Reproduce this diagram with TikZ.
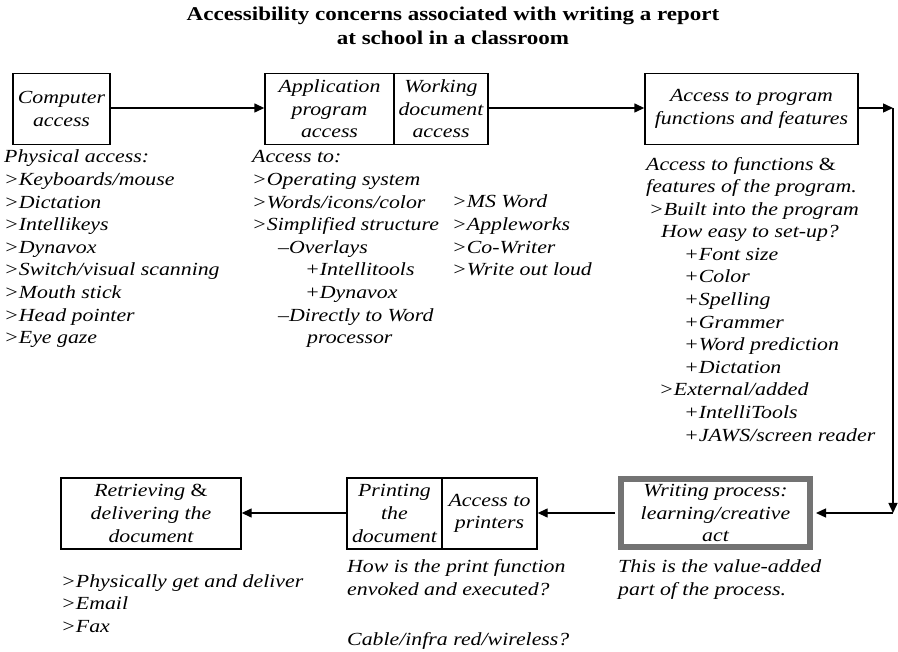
\documentclass[tikz,border=0pt]{standalone}
\usepackage{fontspec}
\setmainfont{Liberation Serif}[FakeStretch=1.18]
\usetikzlibrary{arrows.meta}

\begin{document}
\begin{tikzpicture}[x=1pt,y=-1pt,
  bodyfont/.style={font=\fontsize{18.5}{22.6}\selectfont\itshape},
  % multi-line notes are placed by the baseline of their last line
  txt/.style={bodyfont, align=left, inner sep=0pt, anchor=base west},
  box/.style={bodyfont, draw, line width=1.4pt, inner sep=0pt, align=center, minimum height=71pt},
  keybox/.style={box, draw=black!55, line width=6pt},
  arr/.style={line width=1.4pt, -{Triangle[length=10pt,width=9pt]}}]

\useasboundingbox (0,0) rectangle (898,652);

% heading
\node[font=\fontsize{19.5}{24}\selectfont\bfseries, align=center, anchor=base] (title) at (453,45)
  {Accessibility concerns associated with writing a report\\at school in a classroom};

% top row of steps
\node[box, minimum width=97pt]  (comp) at (61.5,109)  {Computer\\access};
\node[box, minimum width=129pt] (app)  at (329.5,109) {Application\\program\\access};
\node[box, minimum width=94pt]  (work) at (441,109)   {Working\\document\\access};
\node[box, minimum width=213pt] (func) at (751.5,109) {Access to program\\functions and features};

% bottom row of steps
\node[keybox, minimum width=189pt, minimum height=68pt] (write) at (715.5,513) {Writing process:\\learning/creative\\act};
\node[box, minimum width=95pt]  (prnt) at (394.5,513.5) {Printing\\the\\document};
\node[box, minimum width=95pt]  (prns) at (489.5,513.5) {Access to\\printers};
\node[box, minimum width=180pt] (retr) at (151,513.5)   {Retrieving \textup{\&}\\delivering the\\document};

% connectors
\coordinate (c1) at (893,108);
\coordinate (c2) at (893,513);
\draw[arr] (comp.east |- 0,108) -- (app.west |- 0,108);
\draw[arr] (work.east |- 0,108) -- (func.west |- 0,108);
\draw[arr] (func.east |- c1) -- (c1);
\draw[arr] (c1) -- (c2);
\draw[arr, shorten >=3pt] (c2) -- (write.east);
\draw[arr, shorten <=3pt] (write.west) -- (prns.east |- write.west);
\draw[arr] (prnt.west |- write.west) -- (retr.east |- write.west);

% notes under the steps
\node[txt] (n1) at (4,343.8) {Physical access:\\>Keyboards/mouse\\>Dictation\\>Intellikeys\\>Dynavox\\>Switch/visual scanning\\>Mouth stick\\>Head pointer\\>Eye gaze};
\node[txt] (n2) at (252,343.8) {Access to:\\>Operating system\\>Words/icons/color\\>Simplified structure\\
  \hspace*{26pt}–Overlays\\\hspace*{53pt}+Intellitools\\\hspace*{53pt}+Dynavox\\
  \hspace*{26pt}–Directly to Word\\\hspace*{55pt}processor};
\node[txt] (n3) at (452,275.8) {>MS Word\\>Appleworks\\>Co-Writer\\>Write out loud};
\node[txt] (n4) at (646,441.2) {Access to functions \textup{\&}\\features of the program.\\
  \hspace*{3pt}>Built into the program\\\hspace*{15pt}How easy to set-up?\\
  \hspace*{38pt}+Font size\\\hspace*{38pt}+Color\\\hspace*{38pt}+Spelling\\\hspace*{38pt}+Grammer\\
  \hspace*{38pt}+Word prediction\\\hspace*{38pt}+Dictation\\\hspace*{13pt}>External/added\\
  \hspace*{38pt}+IntelliTools\\\hspace*{38pt}+JAWS/screen reader};
\node[txt] (n5) at (618,595.6) {This is the value-added\\part of the process.};
\node[txt] (n6) at (347,595.6) {How is the print function\\envoked and executed?};
\node[txt] (n7) at (347,645) {Cable/infra red/wireless?};
\node[txt] (n8) at (61,632.2) {>Physically get and deliver\\>Email\\>Fax};
\end{tikzpicture}
\end{document}
